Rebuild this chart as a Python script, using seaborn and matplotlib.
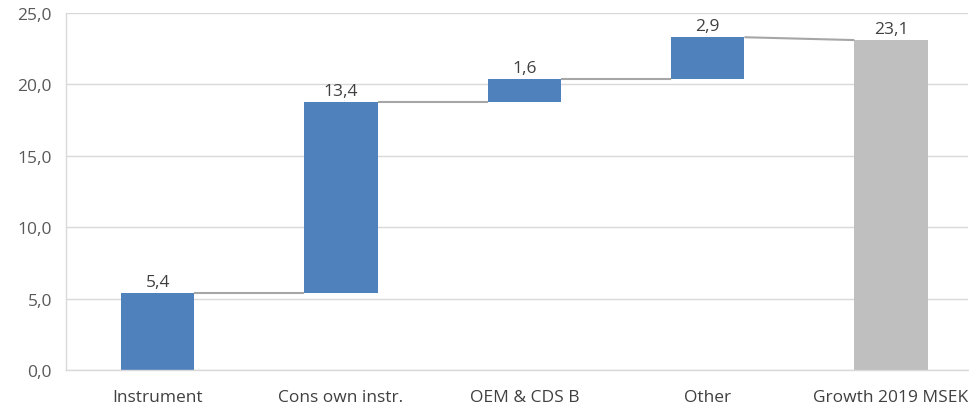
import numpy as np
import seaborn as sns
import matplotlib.pyplot as plt
from matplotlib.ticker import FuncFormatter

categories = ['Instrument', 'Cons own instr.', 'OEM & CDS B', 'Other', 'Growth 2019 MSEK']
increments = [5.4, 13.4, 1.6, 2.9]
total = 23.1

sns.set_theme(style='white')
plt.rcParams['font.family'] = ['Open Sans', 'DejaVu Sans']

tops = np.cumsum(increments)
bases = list(tops - np.array(increments)) + [0.0]
heights = list(increments) + [total]
ends = list(tops) + [total]
colors = ['#4f81bd'] * len(increments) + ['#bfbfbf']

fig = plt.figure(figsize=(9.7, 4.1), dpi=100)
ax = fig.add_axes([0.068, 0.095, 0.93, 0.871])

sns.barplot(ax=ax, x=categories, y=heights, color='#4f81bd', width=0.4,
            bottom=bases, saturation=1, linewidth=0)
for p, c in zip(ax.patches, colors):
    p.set_facecolor(c)

bw = 0.4
# connectors between bars
for i in range(len(categories) - 1):
    y0 = ends[i]
    y1 = bases[i + 1] if i + 1 < len(increments) else total
    ax.plot([i + bw / 2, i + 1 - bw / 2], [y0, y1], color='#a6a6a6', lw=1.5,
            solid_capstyle='butt', zorder=3)

# value labels
for i, h in enumerate(heights):
    ax.text(i, ends[i] + 0.2, f'{h:.1f}'.replace('.', ','), ha='center', va='bottom',
            fontsize=12.5, color='#404040')

ax.set_ylim(0, 25)
ax.set_xlim(-0.5, 4.42)
ax.set_yticks(np.arange(0, 26, 5))
ax.yaxis.set_major_formatter(FuncFormatter(lambda v, p: f'{v:.1f}'.replace('.', ',')))
ax.grid(axis='y', color='#d9d9d9', lw=1)
ax.set_axisbelow(True)
for s in ['top', 'right']:
    ax.spines[s].set_visible(False)
for s in ['left', 'bottom']:
    ax.spines[s].set_color('#d9d9d9')
    ax.spines[s].set_linewidth(1)
ax.tick_params(axis='y', labelsize=12.5, labelcolor='#595959', length=0, pad=10)
ax.tick_params(axis='x', labelsize=12.5, labelcolor='#404040', length=0, pad=14)
ax.set_xlabel('')
ax.set_ylabel('')

fig.savefig('out.png', dpi=100)
